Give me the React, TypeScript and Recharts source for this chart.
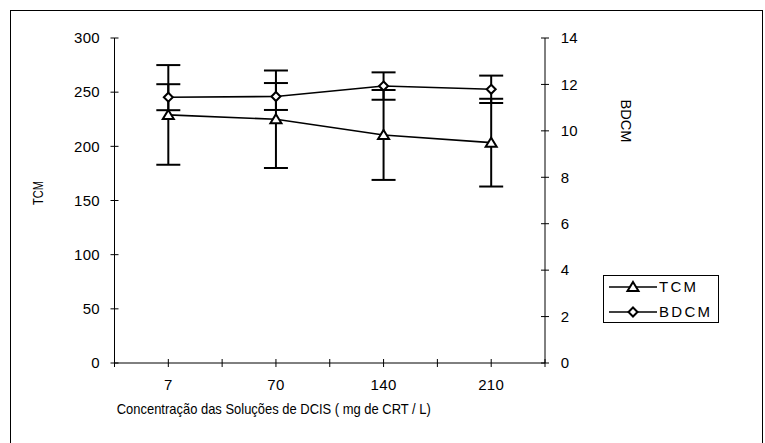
import React from 'react'
import { LineChart, Line, XAxis, YAxis, ErrorBar } from 'recharts'

const categories = ['7', '70', '140', '210']
const tcmValues = [229, 225, 210.5, 203.4]
const tcmErrors = [46, 45, 41.5, 40.5]
const bdcmValues = [11.45, 11.48, 11.93, 11.79]
const bdcmErrors = [0.56, 0.58, 0.59, 0.59]
const tcmTicks = [0, 50, 100, 150, 200, 250, 300]
const bdcmTicks = [0, 2, 4, 6, 8, 10, 12, 14]
const xTicks = [0, 0.5, 1, 1.5, 2, 2.5, 3, 3.5, 4]

const data = categories.map((c, i) => ({
  pos: i + 0.5,
  label: c,
  tcm: tcmValues[i],
  tcmErr: tcmErrors[i],
  bdcm: bdcmValues[i],
  bdcmErr: bdcmErrors[i],
}))

const FONT = '"Liberation Sans", Arial, sans-serif'
const TS = 4

const LeftTick = (p: any) => {
  const ax = p.x + TS + 10.5
  return (
    <g>
      <line x1={ax - 4} x2={ax + 4} y1={p.y} y2={p.y} stroke="#000" />
      <text x={p.x} y={p.y} dy="0.355em" textAnchor="end" fontSize={15} fontFamily={FONT} letterSpacing={0.3} fill="#000">
        {p.payload.value}
      </text>
    </g>
  )
}

const RightTick = (p: any) => {
  const ax = p.x - TS - 11.7
  return (
    <g>
      <line x1={ax - 4} x2={ax + 4} y1={p.y} y2={p.y} stroke="#000" />
      <text x={p.x} y={p.y} dy="0.355em" textAnchor="start" fontSize={15} fontFamily={FONT} letterSpacing={0.3} fill="#000">
        {p.payload.value}
      </text>
    </g>
  )
}

const BottomTick = (p: any) => {
  const ay = p.y - TS - 13
  const v = p.payload.value
  const label = Number.isInteger(v) ? '' : categories[Math.floor(v)]
  return (
    <g>
      <line x1={p.x} x2={p.x} y1={ay - 4} y2={ay + 4} stroke="#000" />
      <text x={p.x} y={p.y - 1} dy="0.71em" textAnchor="middle" fontSize={15} fontFamily={FONT} letterSpacing={0.3} fill="#000">
        {label}
      </text>
    </g>
  )
}

const Triangle = (p: any) => {
  const { cx, cy } = p
  return (
    <path
      key={`t-${p.index}`}
      d={`M${cx},${cy - 5} L${cx + 5.5},${cy + 4} L${cx - 5.5},${cy + 4} Z`}
      fill="#fff"
      stroke="#000"
      strokeWidth={2}
    />
  )
}

const Diamond = (p: any) => {
  const { cx, cy } = p
  return (
    <path
      key={`d-${p.index}`}
      d={`M${cx},${cy - 4.5} L${cx + 4.5},${cy} L${cx},${cy + 4.5} L${cx - 4.5},${cy} Z`}
      fill="#fff"
      stroke="#000"
      strokeWidth={2}
    />
  )
}

function ChartLegend() {
  return (
    <svg
      width={118}
      height={50}
      style={{ position: 'absolute', left: 602, top: 274 }}
    >
      <rect x={1.5} y={1.5} width={115} height={47} fill="#fff" stroke="#000" />
      <line x1={7} x2={55} y1={13} y2={13} stroke="#000" strokeWidth={1.6} />
      <Triangle cx={31} cy={13} />
      <text x={57} y={13} dy="0.355em" fontSize={15} fontFamily={FONT} textLength={37} lengthAdjust="spacing">TCM</text>
      <line x1={7} x2={55} y1={38} y2={38} stroke="#000" strokeWidth={1.6} />
      <Diamond cx={31} cy={38} />
      <text x={57} y={38} dy="0.355em" fontSize={15} fontFamily={FONT} textLength={51} lengthAdjust="spacing">BDCM</text>
    </svg>
  )
}

export default function App() {
  return (
    <div style={{ position: 'absolute', left: 0, top: 0, width: 765, height: 443, overflow: 'hidden', background: '#fff' }}>
      <div style={{ position: 'absolute', left: 10, top: 10, width: 751, height: 460, border: '1px solid #000' }} />
      <div style={{ position: 'absolute', left: 0, top: 0 }}>
        <LineChart width={765} height={443} data={data} margin={{ top: 38, right: 160, left: 0, bottom: 20 }}>
          <XAxis
            dataKey="pos"
            type="number"
            domain={[0, 4]}
            ticks={xTicks}
            interval={0}
            tick={<BottomTick />}
            tickLine={false}
            tickSize={TS}
            tickMargin={13}
            height={60}
            stroke="#000"
            label={(props: any) => {
              const vb = props.viewBox
              return (
                <text x={vb.x + vb.width / 2 - 56} y={vb.y + 46} dy="0.355em" textAnchor="middle" fontSize={14.5} fontFamily={FONT} textLength={314} lengthAdjust="spacingAndGlyphs">
                  Concentração das Soluções de DCIS ( mg de CRT / L)
                </text>
              )
            }}
          />
          <YAxis
            yAxisId="left"
            domain={[0, 300]}
            ticks={tcmTicks}
            interval={0}
            width={114.5}
            tick={<LeftTick />}
            tickLine={false}
            tickSize={TS}
            tickMargin={10.5}
            stroke="#000"
            label={(props: any) => {
              const vb = props.viewBox
              const cy = vb.y + 155
              return (
                <text x={38} y={cy} transform={`rotate(-90 38 ${cy})`} dy="0.355em" textAnchor="middle" fontSize={15} fontFamily={FONT} textLength={24} lengthAdjust="spacingAndGlyphs">
                  TCM
                </text>
              )
            }}
          />
          <YAxis
            yAxisId="right"
            orientation="right"
            domain={[0, 14]}
            ticks={bdcmTicks}
            interval={0}
            width={60}
            tick={<RightTick />}
            tickLine={false}
            tickSize={TS}
            tickMargin={11.7}
            stroke="#000"
            label={(props: any) => {
              const vb = props.viewBox
              const cy = vb.y + 83
              return (
                <text x={626} y={cy} transform={`rotate(90 626 ${cy})`} dy="0.355em" textAnchor="middle" fontSize={15} fontFamily={FONT} textLength={43} lengthAdjust="spacingAndGlyphs">
                  BDCM
                </text>
              )
            }}
          />
          <Line
            yAxisId="left"
            dataKey="tcm"
            type="linear"
            stroke="#000"
            strokeWidth={1.6}
            dot={<Triangle />}
            activeDot={false}
            isAnimationActive={false}
          >
            <ErrorBar dataKey="tcmErr" width={12} stroke="#000" strokeWidth={2} direction="y" />
          </Line>
          <Line
            yAxisId="right"
            dataKey="bdcm"
            type="linear"
            stroke="#000"
            strokeWidth={1.6}
            dot={<Diamond />}
            activeDot={false}
            isAnimationActive={false}
          >
            <ErrorBar dataKey="bdcmErr" width={12} stroke="#000" strokeWidth={2} direction="y" />
          </Line>
        </LineChart>
      </div>
      <ChartLegend />
    </div>
  )
}
